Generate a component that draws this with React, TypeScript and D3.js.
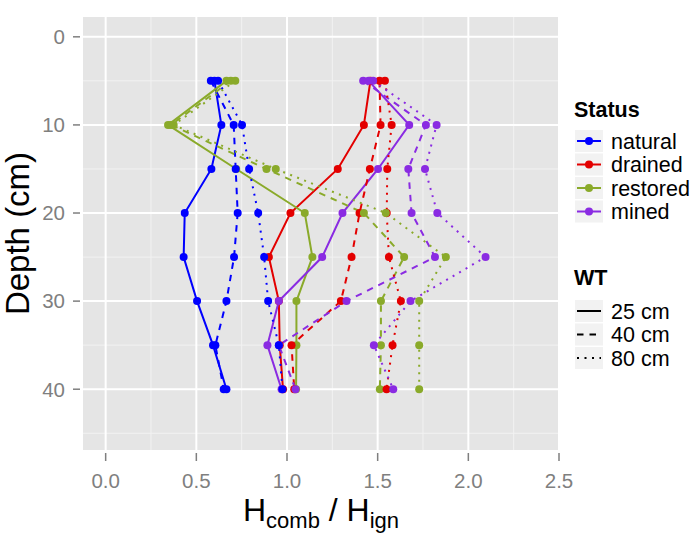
import React from "react";
import * as d3 from "d3";

const depths = [5, 10, 15, 20, 25, 30, 35, 40];
const statuses = ["natural", "drained", "restored", "mined"];
const wtLevels = ["25 cm", "40 cm", "80 cm"];
const xTicks = [0, 0.5, 1, 1.5, 2, 2.5];
const yTicks = [0, 10, 20, 30, 40];

const natural25 = [0.6, 0.638, 0.583, 0.436, 0.43, 0.504, 0.592, 0.666];
const natural40 = [0.58, 0.706, 0.717, 0.728, 0.708, 0.666, 0.605, 0.651];
const natural80 = [0.62, 0.752, 0.791, 0.841, 0.874, 0.896, 0.955, 0.975];
const drained25 = [1.46, 1.424, 1.28, 1.019, 0.9, 0.955, 0.96, 0.978];
const drained40 = [1.51, 1.516, 1.457, 1.4, 1.356, 1.297, 1.025, 1.04];
const drained80 = [1.54, 1.577, 1.553, 1.55, 1.562, 1.628, 1.582, 1.549];
const restored25 = [0.666, 0.344, 0.72, 1.098, 1.14, 1.052, 1.052, 1.05];
const restored40 = [0.69, 0.36, 0.887, 1.424, 1.646, 1.518, 1.518, 1.512];
const restored80 = [0.715, 0.375, 0.938, 1.545, 1.876, 1.729, 1.729, 1.729];
const mined25 = [1.45, 1.674, 1.502, 1.306, 1.194, 0.955, 0.892, 0.97];
const mined40 = [1.42, 1.766, 1.669, 1.687, 1.816, 1.328, 0.955, 1.047];
const mined80 = [1.475, 1.825, 1.761, 1.829, 2.095, 1.681, 1.479, 1.586];

const seriesValues: Record<string, number[][]> = {
  natural: [natural25, natural40, natural80],
  drained: [drained25, drained40, drained80],
  restored: [restored25, restored40, restored80],
  mined: [mined25, mined40, mined80],
};

const colors: Record<string, string> = {
  natural: "#0000FF",
  drained: "#E30000",
  restored: "#8AAA2A",
  mined: "#8A2BE2",
};
const dashes = [null, "6.5,6", "2,5.5"];

const W = 700;
const H = 547;
const panel = { left: 83, right: 559, top: 17, bottom: 450 };
const FONT = "'Liberation Sans', Arial, Helvetica, sans-serif";

export default function App() {
  const x = d3.scaleLinear().domain([-0.125, 2.5]).range([panel.left, panel.right]);
  const y = d3.scaleLinear().domain([-2.25, 46.9]).range([panel.top, panel.bottom]);
  const line = d3
    .line<[number, number]>()
    .x((d) => x(d[0]))
    .y((d) => y(d[1]));

  const xMinor = [0.25, 0.75, 1.25, 1.75, 2.25];
  const yMinor = [5, 15, 25, 35, 45];

  const groups: { status: string; wt: number; pts: [number, number][] }[] = [];
  wtLevels.forEach((_, wi) => {
    statuses.forEach((s) => {
      const vals = seriesValues[s][wi];
      groups.push({ status: s, wt: wi, pts: vals.map((v, i) => [v, depths[i]] as [number, number]) });
    });
  });

  const rowStep = 23.5;
  const statusRows = statuses.map((s, i) => ({ s, cy: 141 + i * rowStep }));
  const wtRows = wtLevels.map((w, i) => ({ w, i, cy: 311 + i * rowStep }));

  return (
    <svg
      width={W}
      height={H}
      style={{ position: "absolute", left: 0, top: 0, background: "#fff" }}
      fontFamily={FONT}
    >
      <rect x={0} y={0} width={W} height={H} fill="#fff" />
      <rect
        x={panel.left}
        y={panel.top}
        width={panel.right - panel.left}
        height={panel.bottom - panel.top}
        fill="#E5E5E5"
      />
      {xMinor.map((v) => (
        <line key={"xm" + v} x1={x(v)} x2={x(v)} y1={panel.top} y2={panel.bottom} stroke="#F2F2F2" strokeWidth={1} />
      ))}
      {yMinor.map((v) => (
        <line key={"ym" + v} x1={panel.left} x2={panel.right} y1={y(v)} y2={y(v)} stroke="#F2F2F2" strokeWidth={1} />
      ))}
      {xTicks.map((v) => (
        <line key={"xg" + v} x1={x(v)} x2={x(v)} y1={panel.top} y2={panel.bottom} stroke="#fff" strokeWidth={2} />
      ))}
      {yTicks.map((v) => (
        <line key={"yg" + v} x1={panel.left} x2={panel.right} y1={y(v)} y2={y(v)} stroke="#fff" strokeWidth={2} />
      ))}

      {groups.map((g, i) => (
        <path
          key={"l" + i}
          d={line(g.pts) || ""}
          fill="none"
          stroke={colors[g.status]}
          strokeWidth={2}
          strokeDasharray={dashes[g.wt] || undefined}
        />
      ))}
      {groups.map((g, i) =>
        g.pts.map((p, j) => (
          <circle key={"p" + i + "-" + j} cx={x(p[0])} cy={y(p[1])} r={4} fill={colors[g.status]} />
        ))
      )}

      {xTicks.map((v) => (
        <g key={"xt" + v}>
          <line x1={x(v)} x2={x(v)} y1={453} y2={461} stroke="#7F7F7F" strokeWidth={1.5} />
          <text x={x(v)} y={488} textAnchor="middle" fontSize={20.5} fill="#7F7F7F">
            {d3.format(".1f")(v)}
          </text>
        </g>
      ))}
      {yTicks.map((v) => (
        <g key={"yt" + v}>
          <line x1={73} x2={80} y1={y(v)} y2={y(v)} stroke="#7F7F7F" strokeWidth={1.5} />
          <text x={65} y={y(v) + 7.3} textAnchor="end" fontSize={20.5} fill="#7F7F7F">
            {v}
          </text>
        </g>
      ))}
      <text
        transform={`translate(29, ${(panel.top + panel.bottom) / 2}) rotate(-90)`}
        textAnchor="middle"
        fontSize={33}
        fill="#000"
      >
        Depth (cm)
      </text>
      <text x={(panel.left + panel.right) / 2} y={521} textAnchor="middle" fontSize={32} fill="#000">
        H
        <tspan fontSize={22} dy={7}>comb</tspan>
        <tspan dy={-7}> / H</tspan>
        <tspan fontSize={22} dy={7}>ign</tspan>
      </text>

      <text x={574} y={117} fontSize={21.5} fontWeight="bold" fill="#000">
        Status
      </text>
      {statusRows.map(({ s, cy }) => (
        <g key={"ls" + s}>
          <rect x={575} y={cy - 11} width={28} height={22} fill="#F2F2F2" />
          <line x1={577} x2={601} y1={cy} y2={cy} stroke={colors[s]} strokeWidth={2} />
          <circle cx={589} cy={cy} r={4} fill={colors[s]} />
          <text x={611} y={cy + 7.5} fontSize={21.5} fill="#000">
            {s}
          </text>
        </g>
      ))}

      <text x={574} y={285} fontSize={21.5} fontWeight="bold" fill="#000">
        WT
      </text>
      {wtRows.map(({ w, i, cy }) => (
        <g key={"lw" + w}>
          <rect x={575} y={cy - 11} width={28} height={22} fill="#F2F2F2" />
          <line
            x1={577}
            x2={601}
            y1={cy}
            y2={cy}
            stroke="#000"
            strokeWidth={2}
            strokeDasharray={dashes[i] || undefined}
          />
          <text x={611} y={cy + 7.5} fontSize={21.5} fill="#000">
            {w}
          </text>
        </g>
      ))}
    </svg>
  );
}
